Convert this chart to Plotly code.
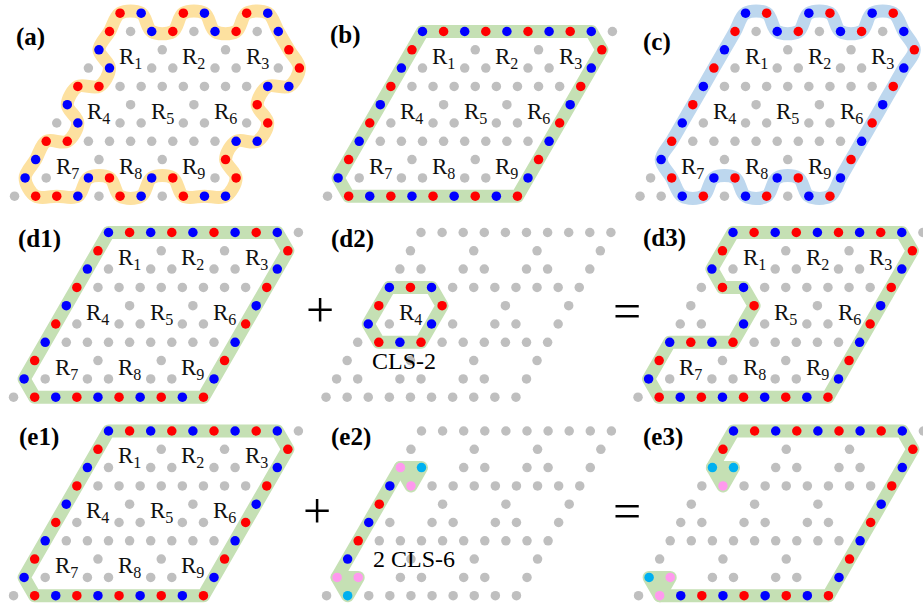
import plotly.graph_objects as go

# ---------------------------------------------------------------
# Lattice geometry (pixel units of the 923x606 canvas)
# ---------------------------------------------------------------
D = 21.1   # nearest-neighbour spacing along a row
H = 18.3   # vertical distance between rows

# Site (0,0) of each panel: (x, y)
PANEL_ORIGIN = {
    "a": (109.5, 31.5), "b": (422.5, 31.5), "c": (735.0, 31.5),
    "d1": (108.5, 232.5), "d2": (421.0, 232.5), "d3": (733.0, 232.5),
    "e1": (108.5, 431.0), "e2": (421.5, 431.0), "e3": (733.5, 431.0),
}

ROWS = range(0, 10)
COLS = range(0, 10)

COLOR = {"R": "#ff0000", "B": "#0000ff", "P": "#ff99ee", "C": "#00b0f0"}
GRAY = "#bfbfbf"
BAND = {"orange": "#fde1a0", "green": "#c5e0b4", "blue": "#bdd7ee"}

# ---------------------------------------------------------------
# Loop / state data: lists of (row, column) sites and their colours
# ---------------------------------------------------------------
LOOP_A = [(0, 0), (-1, 0), (-1, 1), (0, 2), (0, 3), (-1, 3), (-1, 4), (0, 5),
          (0, 6), (-1, 6), (-1, 7), (0, 8), (1, 9), (2, 10), (3, 10), (3, 9),
          (4, 9), (5, 10), (6, 10), (6, 9), (7, 9), (8, 10), (9, 10), (9, 9),
          (9, 8), (8, 7), (8, 6), (9, 6), (9, 5), (8, 4), (8, 3), (9, 3),
          (9, 2), (9, 1), (8, 0), (7, 0), (6, 0), (6, 1), (5, 1), (4, 0),
          (3, 0), (3, 1), (2, 1), (1, 0)]
COLORS_A = "RRBBRRBBRRBBRRBBRRBBRRBBRRBBRRBBRRBBRRBBRRBB"

LOOP_B = [(0, 0), (0, 1), (0, 2), (0, 3), (0, 4), (0, 5), (0, 6), (0, 7), (0, 8),
          (1, 9), (2, 9), (3, 9), (4, 9), (5, 9), (6, 9), (7, 9), (8, 9), (9, 9),
          (9, 8), (9, 7), (9, 6), (9, 5), (9, 4), (9, 3), (9, 2), (9, 1),
          (8, 0), (7, 0), (6, 0), (5, 0), (4, 0), (3, 0), (2, 0), (1, 0)]
COLORS_B = "BRBRBRBRBRBRBRBRBRBRBRBRBRBRBRBRBR"

LOOP_C = [(0, 0), (-1, 0), (-1, 1), (0, 2), (0, 3), (-1, 3), (-1, 4), (0, 5),
          (0, 6), (-1, 6), (-1, 7), (0, 8), (1, 9), (2, 9), (3, 9), (4, 9),
          (5, 9), (6, 9), (7, 9), (8, 9), (9, 9), (9, 8), (8, 7), (8, 6),
          (9, 6), (9, 5), (8, 4), (8, 3), (9, 3), (9, 2), (8, 1), (7, 0),
          (6, 0), (5, 0), (4, 0), (3, 0), (2, 0), (1, 0)]
COLORS_C = "RBRBRBRBRBRBRBRBRBRBRBRBRBRBRBRBRBRBRB"

LOOP_D2 = [(3, 0), (3, 1), (3, 2), (4, 3), (5, 3), (6, 3), (6, 2), (6, 1),
           (5, 0), (4, 0)]
COLORS_D2 = "BRBRBRBRBR"

LOOP_D3 = [(0, 0), (0, 1), (0, 2), (0, 3), (0, 4), (0, 5), (0, 6), (0, 7), (0, 8),
           (1, 9), (2, 9), (3, 9), (4, 9), (5, 9), (6, 9), (7, 9), (8, 9), (9, 9),
           (9, 8), (9, 7), (9, 6), (9, 5), (9, 4), (9, 3), (9, 2), (9, 1),
           (8, 0), (7, 0), (6, 0), (6, 1), (6, 2), (6, 3), (5, 3), (4, 3),
           (3, 2), (3, 1), (2, 0), (1, 0)]
COLORS_D3 = "BRBRBRBRBRBRBRBRBRBRBRBRBRBRBRBRBRBRBR"

# two compact localized states (CLS-6) on the left edge
SITES_E2 = [(2, 0), (2, 1), (3, 1), (3, 0), (4, 0), (5, 0), (6, 0), (7, 0),
            (8, 0), (8, 1), (9, 1)]
COLORS_E2 = "PCPBRBRBPPC"
PATH_E2 = [(2, 0), (3, 0), (4, 0), (5, 0), (6, 0), (7, 0), (8, 0)]

SITES_E3 = [(0, 0), (0, 1), (0, 2), (0, 3), (0, 4), (0, 5), (0, 6), (0, 7), (0, 8),
            (1, 9), (2, 9), (3, 9), (4, 9), (5, 9), (6, 9), (7, 9), (8, 9), (9, 9),
            (9, 8), (9, 7), (9, 6), (9, 5), (9, 4), (9, 3), (9, 2), (9, 1),
            (8, 0), (8, 1), (2, 0), (2, 1), (3, 1), (1, 0)]
COLORS_E3 = "BRBRBRBRBRBRBRBRBRBRBRBRBPCPCCPR"
PATH_E3 = [(2, 0), (1, 0), (0, 0), (0, 1), (0, 2), (0, 3), (0, 4), (0, 5), (0, 6),
           (0, 7), (0, 8), (1, 9), (2, 9), (3, 9), (4, 9), (5, 9), (6, 9), (7, 9),
           (8, 9), (9, 9), (9, 8), (9, 7), (9, 6), (9, 5), (9, 4), (9, 3), (9, 2),
           (9, 1)]

BLOB_TOP = [(2, 0), (2, 1), (3, 1)]
BLOB_BOTTOM = [(8, 0), (8, 1), (9, 1)]

# lattice sites left out of the grey background of a panel
GRAY_OMIT = {"a": [(0, 9)], "c": [(0, 9)]}

# Which plaquette labels R_k appear in each panel
R_LABELS = {
    "a": [1, 2, 3, 4, 5, 6, 7, 8, 9], "b": [1, 2, 3, 4, 5, 6, 7, 8, 9],
    "c": [1, 2, 3, 4, 5, 6, 7, 8, 9], "d1": [1, 2, 3, 4, 5, 6, 7, 8, 9],
    "d2": [4], "d3": [1, 2, 3, 5, 6, 7, 8, 9],
    "e1": [1, 2, 3, 4, 5, 6, 7, 8, 9], "e2": [], "e3": [],
}

PANEL_TITLE = {
    "a": ("(a)", 14, 37), "b": ("(b)", 328, 35), "c": ("(c)", 641, 42),
    "d1": ("(d1)", 16, 239), "d2": ("(d2)", 329, 239), "d3": ("(d3)", 641, 238),
    "e1": ("(e1)", 17, 437), "e2": ("(e2)", 329, 437), "e3": ("(e3)", 641, 437),
}


def site_exists(j, i):
    t = j % 3
    if t == 0:
        return True
    if t == 1:
        return i % 3 == 0
    return i % 3 in (0, 1)


def to_xy(panel, sites):
    x0, y0 = PANEL_ORIGIN[panel]
    xs = [x0 + (i - j / 2.0) * D for j, i in sites]
    ys = [y0 + j * H for j, i in sites]
    return xs, ys


fig = go.Figure()


def add_band(panel, sites, colour, closed=True, spline=False, fill=False):
    pts = list(sites) + ([sites[0]] if closed else [])
    xs, ys = to_xy(panel, pts)
    fig.add_trace(go.Scatter(
        x=xs, y=ys, mode="lines",
        line=dict(color=BAND[colour], width=13,
                  shape="spline" if spline else "linear", smoothing=1.0),
        fill="toself" if fill else None,
        fillcolor=BAND[colour] if fill else None,
        hoverinfo="skip", showlegend=False))


# bands
add_band("a", LOOP_A, "orange", spline=True)
add_band("b", LOOP_B, "green")
add_band("c", LOOP_C, "blue", spline=True)
add_band("d1", LOOP_B, "green")
add_band("d2", LOOP_D2, "green")
add_band("d3", LOOP_D3, "green")
add_band("e1", LOOP_B, "green")
add_band("e2", PATH_E2, "green", closed=False)
add_band("e2", BLOB_TOP, "green", fill=True)
add_band("e2", BLOB_BOTTOM, "green", fill=True)
add_band("e3", PATH_E3, "green", closed=False)
add_band("e3", BLOB_TOP, "green", fill=True)
add_band("e3", BLOB_BOTTOM, "green", fill=True)

PANEL_STATE = {
    "a": (LOOP_A, COLORS_A), "b": (LOOP_B, COLORS_B), "c": (LOOP_C, COLORS_C),
    "d1": (LOOP_B, COLORS_B), "d2": (LOOP_D2, COLORS_D2), "d3": (LOOP_D3, COLORS_D3),
    "e1": (LOOP_B, COLORS_B), "e2": (SITES_E2, COLORS_E2), "e3": (SITES_E3, COLORS_E3),
}

MARKER = 9.5

for panel, (sites, cols) in PANEL_STATE.items():
    occupied = set(sites) | set(GRAY_OMIT.get(panel, []))
    grey = [(j, i) for j in ROWS for i in COLS
            if site_exists(j, i) and (j, i) not in occupied]
    gx, gy = to_xy(panel, grey)
    fig.add_trace(go.Scatter(x=gx, y=gy, mode="markers",
                             marker=dict(size=MARKER, color=GRAY, line=dict(width=0)),
                             hoverinfo="skip", showlegend=False))
    cx, cy = to_xy(panel, sites)
    fig.add_trace(go.Scatter(x=cx, y=cy, mode="markers",
                             marker=dict(size=MARKER, color=[COLOR[c] for c in cols],
                                         line=dict(width=0)),
                             hoverinfo="skip", showlegend=False))

annotations = []

# plaquette labels R_k at the centres of the hexagonal holes
for panel, labels in R_LABELS.items():
    x0, y0 = PANEL_ORIGIN[panel]
    for k in labels:
        r, c = divmod(k - 1, 3)
        j = 3 * r + 1
        x = x0 + (3 * c + 1.5 - j / 2.0) * D
        y = y0 + (j + 0.5) * H - 1
        annotations.append(dict(x=x, y=y, text=f"R<sub>{k}</sub>", showarrow=False,
                                xanchor="center", yanchor="middle",
                                font=dict(family="Liberation Serif", size=23, color="#111")))

for panel, (txt, x, y) in PANEL_TITLE.items():
    annotations.append(dict(x=x, y=y, text=f"<b>{txt}</b>", showarrow=False,
                            xanchor="left", yanchor="middle",
                            font=dict(family="Liberation Serif", size=25, color="#000")))

EXTRA_TEXT = [("CLS-2", 404, 361, 24), ("2 CLS-6", 414, 559, 24),
              ("+", 320, 310, 50), ("+", 317, 511, 50),
              ("=", 627, 311, 50), ("=", 627, 511, 50)]
for txt, x, y, size in EXTRA_TEXT:
    annotations.append(dict(x=x, y=y, text=txt, showarrow=False,
                            xanchor="center", yanchor="middle",
                            font=dict(family="Liberation Serif", size=size, color="#000")))

fig.update_layout(
    width=923, height=606,
    margin=dict(l=0, r=0, t=0, b=0),
    paper_bgcolor="white", plot_bgcolor="white",
    xaxis=dict(range=[0, 923], visible=False, fixedrange=True),
    yaxis=dict(range=[606, 0], visible=False, fixedrange=True),
    showlegend=False, hovermode=False,
    annotations=annotations,
)

ROUND_JOINS = (
    "var s=document.createElement('style');"
    "s.textContent='.js-line,.js-fill{stroke-linejoin:round;stroke-linecap:round}';"
    "document.head.appendChild(s);"
)

fig.write_html("out.html", config={"displayModeBar": False}, post_script=ROUND_JOINS)
